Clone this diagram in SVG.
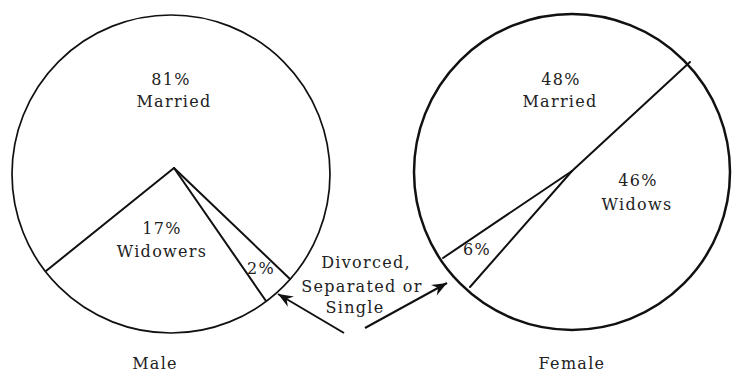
<svg xmlns="http://www.w3.org/2000/svg" width="733" height="376" viewBox="0 0 733 376">
  <style>
    .circ { fill: none; stroke: #111; }
    .seg { fill: none; stroke: #111; stroke-width: 2; stroke-linecap: round; }
    .lbl { font-family: "DejaVu Serif", "Liberation Serif", serif; font-size: 16px; fill: #222; text-anchor: middle; letter-spacing: 1.3px; }
    .arr { fill: none; stroke: #111; stroke-width: 2; }
  </style>
  <defs>
    <marker id="head" viewBox="-16 -7 18 14" markerWidth="18" markerHeight="14" refX="0" refY="0" orient="auto" markerUnits="userSpaceOnUse">
      <path d="M0,0 L-15,-6 L-10,0 L-15,6 Z" fill="#111"/>
    </marker>
  </defs>
  <rect width="733" height="376" fill="#fff"/>

  <g id="male-pie">
    <circle class="circ" cx="171" cy="174" r="159" stroke-width="1.7"/>
    <line class="seg" x1="174" y1="168" x2="46" y2="271"/>
    <line class="seg" x1="174" y1="168" x2="266" y2="301"/>
    <line class="seg" x1="174" y1="168" x2="290" y2="279"/>
    <text class="lbl" x="171" y="85">81%</text>
    <text class="lbl" x="174" y="107">Married</text>
    <text class="lbl" x="162" y="234">17%</text>
    <text class="lbl" x="162" y="257">Widowers</text>
    <text class="lbl" x="261" y="274">2%</text>
    <text class="lbl" x="155" y="369">Male</text>
  </g>

  <g id="female-pie">
    <circle class="circ" cx="572" cy="172" r="158" stroke-width="2.5"/>
    <line class="seg" x1="690" y1="62" x2="572" y2="171"/>
    <line class="seg" x1="572" y1="171" x2="443" y2="258"/>
    <line class="seg" x1="572" y1="171" x2="470" y2="287"/>
    <text class="lbl" x="561" y="85">48%</text>
    <text class="lbl" x="560" y="107">Married</text>
    <text class="lbl" x="638" y="186">46%</text>
    <text class="lbl" x="637" y="210">Widows</text>
    <text class="lbl" x="477" y="255">6%</text>
    <text class="lbl" x="572" y="369">Female</text>
  </g>

  <g id="divorced-label">
    <text class="lbl" x="366" y="268">Divorced,</text>
    <text class="lbl" x="362" y="292">Separated or</text>
    <text class="lbl" x="355" y="313">Single</text>
  </g>

  <g id="connectors">
    <line class="arr" x1="344" y1="333" x2="278" y2="294" marker-end="url(#head)"/>
    <line class="arr" x1="365" y1="328" x2="447" y2="283" marker-end="url(#head)"/>
  </g>
</svg>
